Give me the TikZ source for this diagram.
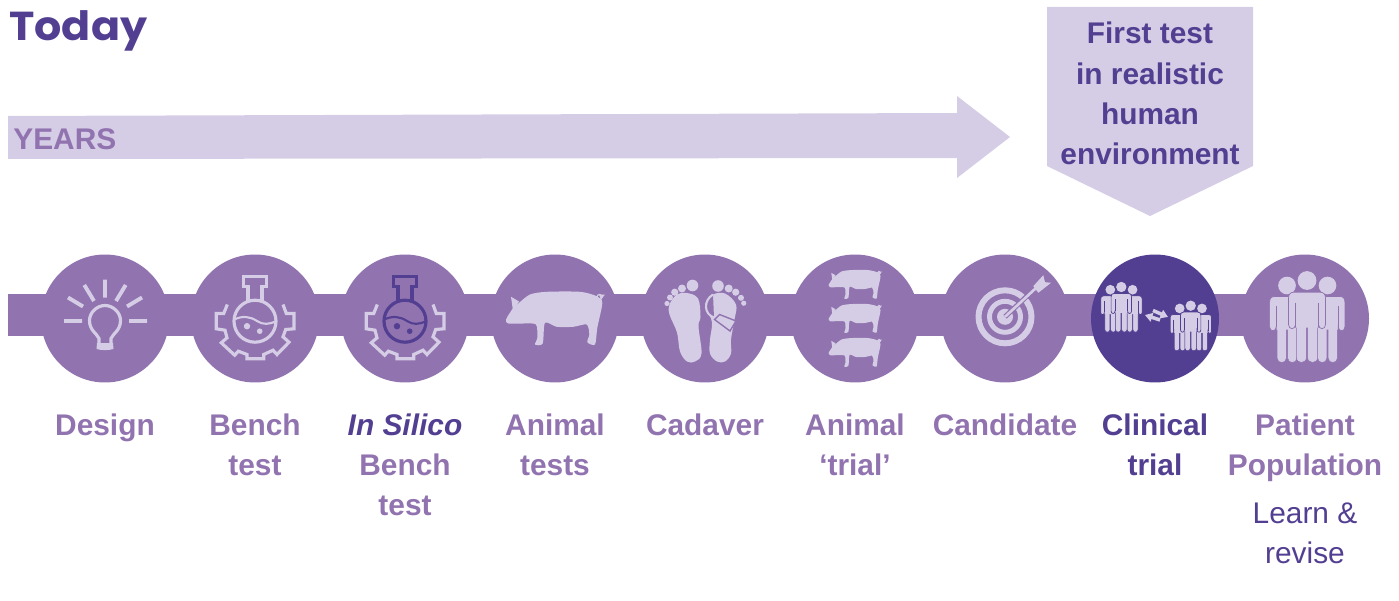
\documentclass[tikz,border=0pt]{standalone}
\usepackage{fontspec}
\setmainfont{Liberation Sans}
\newfontfamily\todayfont[FakeStretch=1.06]{Poppins}
\usetikzlibrary{arrows.meta,backgrounds}

\definecolor{darkpurple}{HTML}{523F91}
\definecolor{midpurple}{HTML}{9173B0}
\definecolor{palepurple}{HTML}{D5CDE5}

\newcommand{\personleg}[2]{%
  \draw[draw=#2,fill=palepurple,line width=0.3pt] (#1-5,44) -- (#1-5,77) .. controls (#1-5,83.6) and (#1+5,83.6) .. (#1+5,77) -- (#1+5,44) -- cycle;}
\newcommand{\personshape}[1]{%
  \fill[palepurple] (0,0) circle (9.4);
  \personleg{-5.6}{#1}
  \personleg{5.6}{#1}
  \fill[palepurple] (-13,11.7) -- (13,11.7) .. controls (17,11.7) and (18.5,14) .. (18.5,18)
    -- (18.5,44) .. controls (18.5,49.5) and (11.5,49.5) .. (11.5,44) -- (11.5,47) -- (-11.5,47) -- (-11.5,44)
    .. controls (-11.5,49.5) and (-18.5,49.5) .. (-18.5,44) -- (-18.5,18) .. controls (-18.5,14) and (-17,11.7) .. (-13,11.7) -- cycle;
  \draw[#1,line width=0.4pt] (-11.5,47) -- (-11.5,44) .. controls (-11.5,49.5) and (-18.5,49.5) .. (-18.5,44)
    -- (-18.5,18) .. controls (-18.5,14) and (-17,11.7) .. (-13,11.7) -- (13,11.7) .. controls (17,11.7) and (18.5,14) .. (18.5,18)
    -- (18.5,44) .. controls (18.5,49.5) and (11.5,49.5) .. (11.5,44) -- (11.5,47);
  \draw[#1,line width=0.4pt] (-11.5,22) -- (-11.5,44) (11.5,22) -- (11.5,44);}

\tikzset{
  stage/.style={circle,fill=midpurple,minimum size=2.56cm,inner sep=0pt},
  steplabel/.style={anchor=north,align=center,text=midpurple,
    font=\fontsize{17}{22.8}\selectfont\bfseries},
  swaparrow/.style={palepurple,line width=2pt,-{Triangle[length=4.2pt,width=5pt]}},
  icon/.style={draw=palepurple,line width=1.8pt},
  pics/bulb/.style={code={
    \draw[palepurple,line width=2.2pt] (0,-39) -- (0,-21) (-20.7,-33.5) -- (-11,-17.5) (20.7,-33.5) -- (11,-17.5)
      (-37,-21) -- (-22,-12) (37,-21) -- (22,-12) (-41,2.5) -- (-23,2.5) (24,2.5) -- (42,2.5);
    \draw[icon] (-6,25) -- (-6,20) .. controls (-8,15) and (-15.5,12) .. (-15.5,2)
      .. controls (-15.5,-6) and (-8,-13) .. (0,-13)
      .. controls (8,-13) and (15.5,-6) .. (15.5,2)
      .. controls (15.5,12) and (8,15) .. (6,20) -- (6,25);
    \fill[palepurple] (-8,24.5) -- (8,24.5) -- (8.5,30.5)
      .. controls (3,32) and (-3,32) .. (-8.5,30.5) -- cycle;
  }},
  pics/flaskgear/.style={code={
    \draw[icon,line join=miter] (-27.7,-14) -- (-31.3,-5) -- (-38.7,-5) -- (-38.7,10.3)
      -- (-30,11.7) -- (-28,19.3) -- (-33.7,24.3) -- (-20.3,36.7) -- (-16.7,32.7)
      -- (-8,36) -- (-8,40.3) -- (8.7,40.3) -- (8.7,36) -- (18,31.7) -- (22,36)
      -- (34,23.7) -- (28,18.3) -- (30.7,11) -- (39,10.3) -- (39,-5) -- (31.3,-5)
      -- (28,-14);
    \draw[draw=#1,line width=1.8pt] (-7,-16.5) -- (-7,-31.7) -- (-11.5,-31.7) -- (-11.5,-41.7)
      -- (11.5,-41.7) -- (11.5,-31.7) -- (7,-31.7) -- (7,-16.5);
    \draw[draw=#1,line width=1.8pt] (0,2.7) circle (21);
    \draw[draw=#1,line width=1.2pt] (-21,1) .. controls (-12,-3) and (-5,-2) .. (2,2.5)
      .. controls (8,6.5) and (14,6) .. (21,2.7);
    \fill[#1] (-8,7.7) circle (3.2) (4.7,12.7) circle (2.8);
  }},
  pics/pig/.style={code={
    \fill[palepurple] plot[smooth cycle,tension=0.45] coordinates {(-49,1) (-46.7,5)
      (-31.7,5) (-19,6) (-17.7,19.3) (-20,26) (-12.3,25) (-10,4.3) (1.7,8.3) (18.3,8.3)
      (31.7,6) (34.3,16) (32.3,23.7) (40,26) (42.3,9.3) (47.3,-15.7) (41.7,-22.3)
      (25,-26.7) (-8.3,-26.7) (-25,-24) (-36.7,-15) (-41.7,-10.7)};
    \fill[palepurple] (-44,-21.7) -- (-36,-17) -- (-42,-8) -- cycle;
    \draw[palepurple,line width=0.7pt] (44.5,-21.5) circle (2.5);
    \fill[palepurple] (44,-24) -- (50,-24) -- (46,-19) -- cycle;
  }},
  pics/feet/.style={code={
    \fill[palepurple] (-12.5,-33) circle (5.8) (-23,-30) circle (4) (-30.3,-26.3) circle (3.6)
      (-35,-21) circle (3) (-38,-15) circle (2.6);
    \fill[palepurple] (13,-32.5) circle (5.8) (23.7,-30) circle (4) (30.7,-26.3) circle (3.6)
      (36,-20.7) circle (3) (38.7,-15.3) circle (2.6);
    \fill[palepurple] plot[smooth cycle,tension=0.6] coordinates {(-18,-25.5) (-7,-20)
      (-4.5,-2) (-6.5,8) (-3.5,35) (-10,43) (-18,43) (-25,33) (-28,14) (-35.5,-4)
      (-35.5,-14) (-28,-24)};
    \fill[palepurple] plot[smooth cycle,tension=0.6] coordinates {(8,-24) (20,-25)
      (31,-14) (29.5,1) (26,21) (26,35) (20,43) (12,43) (5,35) (5,21) (7,4) (2,-9) (2,-17)};
    \draw[palepurple,line width=1.2pt,fill=midpurple] (8,-24) .. controls (-2,-18) and (-1,-4) .. (9,-1);
    \draw[midpurple,line width=0.8pt,fill=palepurple] (9.5,1) -- (14.5,-4) -- (31,2.5)
      -- (25,12.5) -- cycle;
  }},
  pics/target/.style={code={
    \draw[palepurple,line width=3.4pt] (0,-1.7) circle (26.5);
    \draw[palepurple,line width=2.8pt] (0,-1.7) circle (15.5);
    \fill[palepurple] (0,-1.7) circle (8);
    \draw[midpurple,line width=2.8pt] (0,-1.7) -- (30,-30);
    \draw[palepurple,line width=1.5pt] (0,-1.7) -- (31,-30.5);
    \fill[palepurple] (28.3,-32.3) -- (38.3,-43.3) -- (40,-36.3) -- (46,-35.7) -- (33.3,-25.7) -- cycle;
  }},
  pics/crowd/.style={code={
    \begin{scope}[shift={(-20,5)},scale=0.94]\personshape{#1}\end{scope}
    \begin{scope}[shift={(20.5,5)},scale=0.94]\personshape{#1}\end{scope}
    \personshape{#1}
  }},
}

\begin{document}
\begin{tikzpicture}[x=0.02cm,y=-0.02cm]
  \useasboundingbox (0,0) rectangle (1399,601);

  \node[anchor=base west,inner sep=0pt,text=darkpurple,font=\todayfont\fontsize{23}{28}\selectfont\bfseries] (today) at (9,41) {Today};

  % years arrow and first test box
  \fill[palepurple] (8,116) -- (957,113) -- (957,96) -- (1010,137) -- (957,178) -- (957,158) -- (8,159) -- cycle;
  \node[anchor=base west,inner sep=0pt,text=midpurple,font=\fontsize{17}{20}\selectfont\bfseries] (years) at (13,150) {YEARS};
  \fill[palepurple] (1047,7) -- (1253,7) -- (1253,166) -- (1150,216) -- (1047,166) -- cycle;
  \node[anchor=north,align=center,inner sep=0pt,text=darkpurple,font=\fontsize{17}{22.8}\selectfont\bfseries] (firsttest) at (1150,22)
    {First test\\in realistic\\human\\environment};

  % stages
  \foreach \name/\px in {design/105,bench/255,silico/405,animal/555,cadaver/705,trial/855,candidate/1005,patient/1305}
    \node[stage] (\name) at (\px,318.5) {};
  \node[stage,fill=darkpurple] (clinical) at (1155,318.5) {};

  \coordinate (start) at (8,315);
  \begin{scope}[on background layer]
    \draw[midpurple,line width=23.9pt] (start) -- (start -| patient.center);
  \end{scope}

  \pic at (design) {bulb};
  \pic at (bench) {flaskgear=palepurple};
  \pic at (silico) {flaskgear=darkpurple};
  \pic at (animal) {pig};
  \pic at (cadaver) {feet};
  \pic[scale=0.54] at (855,284.5) {pig};
  \pic[scale=0.54] at (855,318.5) {pig};
  \pic[scale=0.54] at (855,352.5) {pig};
  \pic at (candidate) {target};
  \pic[scale=0.55] at (1121.3,287) {crowd=darkpurple};
  \pic[scale=0.55] at (1190.7,305.7) {crowd=darkpurple};
  \draw[swaparrow] (1160,320) -- (1145,315);
  \draw[swaparrow] (1153,310.5) -- (1168,317);
  \pic at (1307,280.5) {crowd=midpurple};

  % labels
  \foreach \name/\txt in {design/Design,bench/Bench\\test,animal/Animal\\tests,cadaver/Cadaver,trial/Animal\\‘trial’,candidate/Candidate,patient/Patient\\Population}
    \node[steplabel] (\name label) at (\name |- 0,407.5) {\txt};
  \node[steplabel] (silicolabel) at (silico |- 0,407.5) {\textcolor{darkpurple}{\itshape In Silico}\\Bench\\test};
  \node[steplabel,text=darkpurple] (clinicallabel) at (clinical |- 0,407.5) {Clinical\\trial};
  \node[anchor=north,align=center,text=darkpurple,font=\fontsize{17}{22.8}\selectfont] (learn) at (patient |- 0,497) {Learn \&\\revise};
\end{tikzpicture}
\end{document}
